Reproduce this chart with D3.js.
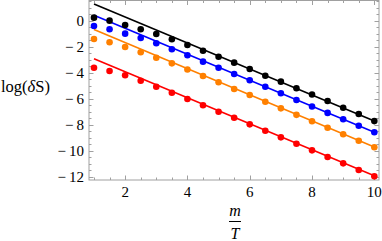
<!DOCTYPE html>
<html>
<head>
<meta charset="utf-8">
<script src="https://cdn.jsdelivr.net/npm/d3@7"></script>
<style>
  body { margin: 0; background: #fff; }
</style>
</head>
<body>
<svg width="382" height="241"></svg>
<script>
var svg = d3.select("svg"),
    width = +svg.attr("width"),
    height = +svg.attr("height");

var serif = "'Liberation Serif', 'Times New Roman', Times, 'DejaVu Serif', serif";
svg.attr("font-family", serif);

// data
var mT = [1, 1.5, 2, 2.5, 3, 3.5, 4, 4.5, 5, 5.5, 6, 6.5, 7, 7.5, 8, 8.5, 9, 9.5, 10];
var black  = [0.23, 0.0, -0.33, -0.66, -1.02, -1.43, -1.87, -2.31, -2.77, -3.23, -3.72, -4.23, -4.69, -5.2, -5.68, -6.18, -6.69, -7.18, -7.72];
var blue   = [-0.41, -0.66, -1.0, -1.33, -1.74, -2.2, -2.66, -3.15, -3.62, -4.1, -4.58, -5.08, -5.58, -6.1, -6.6, -7.09, -7.58, -8.08, -8.58];
var orange = [-1.41, -1.66, -2.02, -2.43, -2.85, -3.28, -3.76, -4.25, -4.74, -5.25, -5.72, -6.23, -6.74, -7.24, -7.73, -8.23, -8.73, -9.23, -9.73];
var red    = [-3.62, -3.87, -4.2, -4.62, -5.08, -5.54, -6.02, -6.5, -7.0, -7.46, -7.97, -8.46, -8.97, -9.46, -9.97, -10.48, -10.97, -11.48, -11.97];

// fitted straight lines (endpoints at m/T = 1 and 10)
var fitX = [1, 10];
var blackFit  = [1.28, -7.72];
var blueFit   = [0.42, -8.58];
var orangeFit = [-0.68, -9.72];
var redFit    = [-2.92, -11.92];

var xTicks = [2, 4, 6, 8, 10];
var yTicks = [-12, -10, -8, -6, -4, -2, 0];

var series = [
  {vals: black,  fit: blackFit,  color: "#000000"},
  {vals: blue,   fit: blueFit,   color: "#0000ff"},
  {vals: orange, fit: orangeFit, color: "#ff8000"},
  {vals: red,    fit: redFit,    color: "#ff0000"}
];

var pLeft = 89, pRight = 379, pTop = 0.5, pBottom = 180;

var x = d3.scaleLinear().domain([0.84, 10.15]).range([pLeft, pRight]);
var y = d3.scaleLinear().domain([-12.25, 1.55]).range([pBottom, pTop]);

var frameColor = "#a0a0a0";

// frame
svg.append("rect")
    .attr("x", pLeft).attr("y", pTop)
    .attr("width", pRight - pLeft).attr("height", pBottom - pTop)
    .attr("fill", "none")
    .attr("stroke", frameColor)
    .attr("stroke-width", 1);

// minor / major ticks
var xMinor = d3.range(1, 10.01, 0.5);
var yMinor = d3.range(-12, 1.51, 0.5);

function tickLen(v, step) { return Math.abs(v / step - Math.round(v / step)) < 1e-6 ? 4.5 : 2.5; }

var ticks = svg.append("g").attr("stroke", frameColor).attr("stroke-width", 1);
xMinor.forEach(function(v) {
  var l = tickLen(v, 2), px = Math.round(x(v)) + 0.5;
  ticks.append("line").attr("x1", px).attr("x2", px).attr("y1", pBottom).attr("y2", pBottom - l);
  ticks.append("line").attr("x1", px).attr("x2", px).attr("y1", pTop).attr("y2", pTop + l);
});
yMinor.forEach(function(v) {
  var l = tickLen(v, 2), py = Math.round(y(v)) + 0.5;
  ticks.append("line").attr("y1", py).attr("y2", py).attr("x1", pLeft).attr("x2", pLeft + l);
  ticks.append("line").attr("y1", py).attr("y2", py).attr("x1", pRight).attr("x2", pRight - l);
});

// tick labels
svg.append("g").selectAll("text")
    .data(xTicks)
    .enter().append("text")
      .attr("x", function(d) { return x(d); })
      .attr("y", 197)
      .attr("text-anchor", "middle")
      .attr("font-size", 15)
      .text(function(d) { return d; });

svg.append("g").selectAll("text")
    .data(yTicks)
    .enter().append("text")
      .attr("x", 84)
      .attr("y", function(d) { return y(d) + 5; })
      .attr("text-anchor", "end")
      .attr("font-size", 15)
      .text(function(d) { return d < 0 ? "\u2212\u2009" + Math.abs(d) : d; });

// fit lines
var line = d3.line()
    .x(function(d) { return x(d[0]); })
    .y(function(d) { return y(d[1]); });

series.forEach(function(s) {
  svg.append("path")
      .datum(fitX.map(function(v, i) { return [v, s.fit[i]]; }))
      .attr("fill", "none")
      .attr("stroke", s.color)
      .attr("stroke-width", 1.6)
      .attr("d", line);
});

// points
series.forEach(function(s) {
  svg.append("g").selectAll("circle")
      .data(mT.map(function(v, i) { return [v, s.vals[i]]; }))
      .enter().append("circle")
        .attr("cx", function(d) { return x(d[0]); })
        .attr("cy", function(d) { return y(d[1]); })
        .attr("r", 3.3)
        .attr("fill", s.color);
});

// y label
var yl = svg.append("text")
    .attr("x", 1)
    .attr("y", 92)
    .attr("font-size", 16.5);
yl.append("tspan").text("log(");
yl.append("tspan").attr("font-style", "italic").text("\u03b4");
yl.append("tspan").text("S)");

// x label as fraction
var cx = (pLeft + pRight) / 2 + 1;
svg.append("text")
    .attr("x", cx).attr("y", 215.5)
    .attr("text-anchor", "middle")
    .attr("font-size", 16)
    .attr("font-style", "italic")
    .text("m");
svg.append("line")
    .attr("x1", cx - 6).attr("x2", cx + 6)
    .attr("y1", 221.5).attr("y2", 221.5)
    .attr("stroke", "#000").attr("stroke-width", 1);
svg.append("text")
    .attr("x", cx).attr("y", 239)
    .attr("text-anchor", "middle")
    .attr("font-size", 16)
    .attr("font-style", "italic")
    .text("T");
</script>
</body>
</html>
